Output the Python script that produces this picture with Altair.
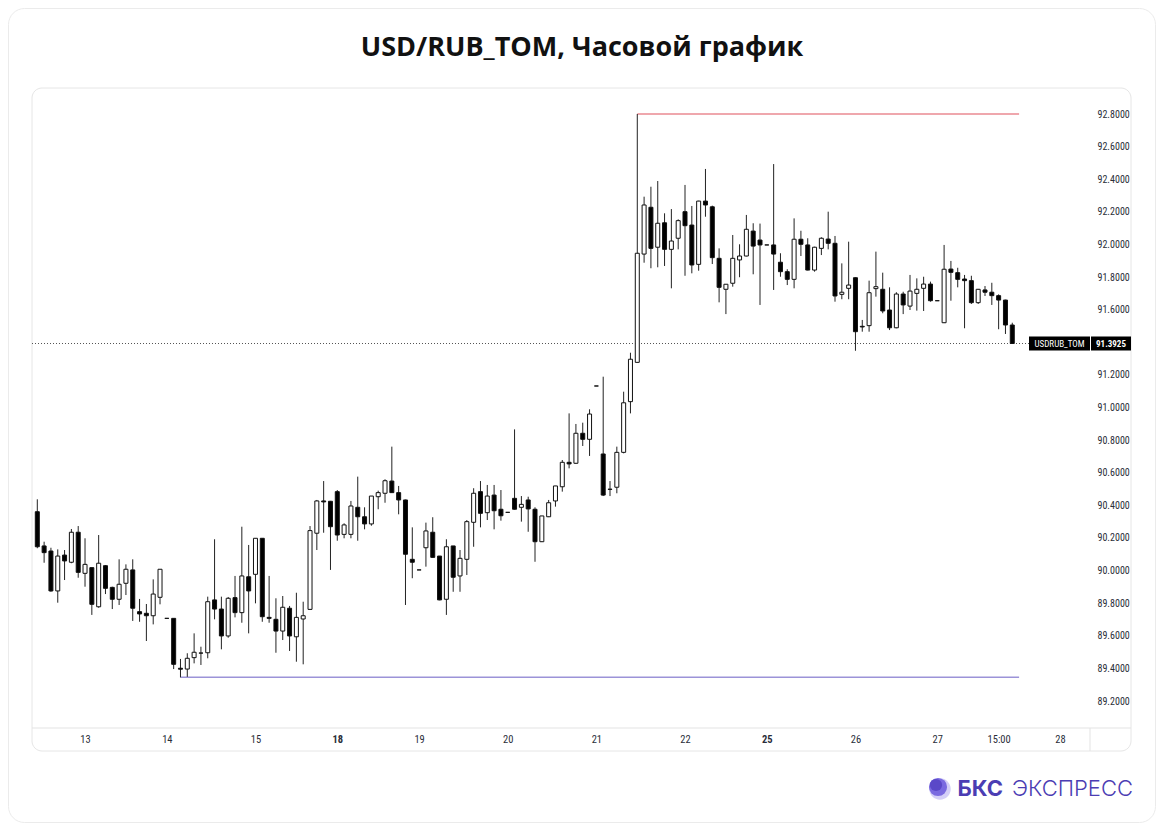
import altair as alt
import pandas as pd

# ---------------- data (hourly candles, USD/RUB_TOM) ----------------
opens = [90.361, 90.151, 90.120, 89.875, 90.095, 90.051, 90.235, 89.983, 90.018, 89.778,
         90.030, 89.897, 89.824, 89.922, 90.004, 89.748, 89.738, 89.723, 89.836, 89.707,
         89.707, 89.401, 89.396, 89.466, 89.494, 89.496, 89.820, 89.764, 89.599, 89.834,
         89.742, 89.962, 89.977, 90.198, 89.713, 89.701, 89.629, 89.769, 89.594, 89.703,
         89.762, 90.229, 90.427, 90.425, 90.484, 90.222, 90.222, 90.388, 90.330, 90.286,
         90.453, 90.474, 90.549, 90.478, 90.433, 90.069, 90.004, 90.140, 90.235, 90.089,
         89.824, 90.151, 89.967, 90.069, 90.296, 90.484, 90.355, 90.463, 90.376, 90.357,
         90.443, 90.388, 90.433, 90.376, 90.177, 90.330, 90.427, 90.514, 90.664, 90.658,
         90.842, 90.805, 91.132, 90.715, 90.498, 90.511, 90.725, 91.036, 91.277, 91.941,
         92.228, 91.983, 92.133, 91.970, 92.038, 92.201, 92.119, 91.878, 92.266, 92.231,
         91.915, 91.725, 91.762, 91.905, 91.929, 92.082, 92.027, 91.997, 91.997, 91.891,
         91.833, 91.786, 92.032, 91.997, 91.843, 91.976, 92.033, 92.007, 91.694, 91.731,
         91.796, 91.498, 91.502, 91.729, 91.725, 91.598, 91.489, 91.696, 91.622, 91.700,
         91.731, 91.757, 91.655, 91.520, 91.849, 91.827, 91.788, 91.778, 91.643, 91.721,
         91.707, 91.686, 91.659, 91.506]
highs = [90.437, 90.177, 90.140, 90.130, 90.126, 90.255, 90.273, 90.198, 90.018, 90.218,
         90.034, 89.901, 90.069, 90.038, 90.069, 89.826, 89.795, 89.946, 90.008, 89.707,
         89.707, 89.458, 89.493, 89.615, 89.533, 89.840, 90.192, 89.840, 89.838, 89.967,
         90.269, 90.157, 90.198, 90.198, 89.967, 89.830, 89.844, 89.783, 89.864, 89.809,
         90.273, 90.433, 90.549, 90.427, 90.494, 90.290, 90.427, 90.576, 90.388, 90.457,
         90.490, 90.560, 90.760, 90.519, 90.435, 90.265, 90.004, 90.294, 90.327, 90.089,
         90.192, 90.151, 90.126, 90.310, 90.505, 90.549, 90.525, 90.525, 90.494, 90.357,
         90.866, 90.457, 90.453, 90.388, 90.335, 90.433, 90.519, 90.678, 90.964, 90.899,
         90.907, 90.989, 91.132, 91.189, 90.549, 90.760, 91.097, 91.336, 92.800, 92.293,
         92.354, 92.389, 92.191, 92.217, 92.154, 92.365, 92.236, 92.268, 92.463, 92.238,
         91.976, 91.756, 92.058, 92.001, 92.181, 92.130, 92.128, 91.997, 92.493, 91.946,
         91.848, 92.160, 92.084, 92.038, 91.986, 92.044, 92.201, 92.052, 91.884, 92.017,
         91.798, 91.537, 91.778, 91.956, 91.827, 91.737, 91.707, 91.710, 91.813, 91.792,
         91.802, 91.772, 91.655, 91.997, 91.899, 91.857, 91.813, 91.808, 91.727, 91.745,
         91.765, 91.694, 91.661, 91.520]
lows = [90.137, 90.048, 89.870, 89.803, 89.942, 90.045, 89.956, 89.901, 89.728, 89.772,
        89.856, 89.764, 89.789, 89.850, 89.691, 89.686, 89.568, 89.670, 89.793, 89.707,
        89.396, 89.345, 89.348, 89.431, 89.421, 89.462, 89.701, 89.517, 89.588, 89.713,
        89.680, 89.615, 89.799, 89.686, 89.680, 89.496, 89.574, 89.507, 89.441, 89.425,
        89.758, 90.126, 90.232, 90.004, 90.183, 90.198, 90.198, 90.183, 90.253, 90.275,
        90.376, 90.416, 90.476, 90.345, 89.789, 89.953, 90.004, 90.024, 90.079, 89.818,
        89.728, 89.870, 89.870, 89.973, 90.146, 90.265, 90.310, 90.253, 90.306, 90.357,
        90.374, 90.300, 90.238, 90.054, 90.175, 90.328, 90.392, 90.484, 90.627, 90.654,
        90.764, 90.703, 91.132, 90.457, 90.457, 90.474, 90.719, 90.964, 91.275, 91.888,
        91.854, 91.860, 91.868, 91.731, 91.970, 91.808, 91.823, 91.839, 92.170, 91.880,
        91.645, 91.573, 91.741, 91.799, 91.927, 91.817, 91.629, 91.997, 91.721, 91.802,
        91.751, 91.731, 91.929, 91.841, 91.833, 91.935, 91.970, 91.649, 91.664, 91.664,
        91.348, 91.465, 91.465, 91.680, 91.578, 91.475, 91.486, 91.573, 91.598, 91.594,
        91.592, 91.649, 91.655, 91.518, 91.655, 91.737, 91.486, 91.635, 91.635, 91.684,
        91.629, 91.480, 91.451, 91.3925]
closes = [90.146, 90.110, 89.875, 90.089, 90.059, 90.235, 89.989, 90.038, 89.793, 90.045,
          89.891, 89.824, 89.916, 90.008, 89.769, 89.734, 89.723, 89.856, 90.008, 89.707,
          89.425, 89.395, 89.462, 89.499, 89.494, 89.809, 89.764, 89.599, 89.830, 89.742,
          89.967, 89.875, 90.198, 89.717, 89.707, 89.629, 89.775, 89.599, 89.713, 89.723,
          90.245, 90.427, 90.421, 90.269, 90.218, 90.280, 90.396, 90.330, 90.286, 90.457,
          90.478, 90.551, 90.478, 90.433, 90.100, 90.051, 90.004, 90.243, 90.081, 89.820,
          90.146, 89.959, 90.075, 90.300, 90.474, 90.351, 90.457, 90.367, 90.336, 90.357,
          90.376, 90.406, 90.378, 90.177, 90.335, 90.416, 90.519, 90.664, 90.654, 90.842,
          90.805, 90.960, 91.132, 90.463, 90.499, 90.725, 91.029, 91.296, 91.946, 92.242,
          91.976, 92.130, 91.970, 92.021, 92.146, 92.115, 91.874, 92.266, 92.242, 91.919,
          91.737, 91.756, 91.915, 91.929, 92.093, 91.990, 91.997, 91.997, 91.941, 91.833,
          91.786, 92.032, 92.001, 91.843, 91.983, 92.038, 92.007, 91.684, 91.707, 91.751,
          91.465, 91.494, 91.704, 91.741, 91.592, 91.489, 91.696, 91.629, 91.714, 91.725,
          91.757, 91.655, 91.655, 91.848, 91.829, 91.786, 91.778, 91.643, 91.725, 91.707,
          91.686, 91.659, 91.506, 91.3925]

x_tick_values = [7, 19, 32, 44, 56, 69, 82, 95, 107, 120, 132, 141, 150]
x_tick_labels = ["13", "14", "15", "18", "19", "20", "21", "22", "25", "26", "27", "15:00", "28"]
bold_labels = ["18", "25"]
# 91.4000 is hidden under the last-price marker in the reference
y_tick_values = [89.2, 89.4, 89.6, 89.8, 90.0, 90.2, 90.4, 90.6, 90.8,
                 91.0, 91.2, 91.6, 91.8, 92.0, 92.2, 92.4, 92.6, 92.8]

symbol = "USDRUB_TOM"
title_text = "USD/RUB_TOM, Часовой график"
line_end_index = 144

# ---------------- layout ----------------
W, H = 1058, 640
X_DOMAIN = [-0.777, 154.4]
Y_DOMAIN = [89.0345, 92.9595]
AXIS_FONT = "Liberation Sans Narrow, Roboto Condensed, Roboto, sans-serif"

df = pd.DataFrame({"i": list(range(len(opens))), "open": opens, "high": highs,
                   "low": lows, "close": closes})
last_close = closes[-1]
hi_idx = highs.index(max(highs))
lo_idx = lows.index(min(lows))
lines_df = pd.DataFrame({
    "x": [hi_idx, lo_idx], "x2": [line_end_index, line_end_index],
    "y": [max(highs), min(lows)], "kind": ["hi", "lo"]})
dummy = pd.DataFrame({"a": [0]})

xscale = alt.Scale(domain=X_DOMAIN, nice=False, zero=False, padding=0)
yscale = alt.Scale(domain=Y_DOMAIN, nice=False, zero=False, padding=0)

bold_idx = [x_tick_values[x_tick_labels.index(b)] for b in bold_labels]
label_expr = ("[" + ",".join("'%s'" % l for l in x_tick_labels) + "][indexof(["
              + ",".join(str(v) for v in x_tick_values) + "], datum.value)]")
xaxis = alt.Axis(values=x_tick_values, labelExpr=label_expr, ticks=False, domain=False,
                 grid=False, title=None, labelFont=AXIS_FONT, labelFontSize=10.5,
                 labelColor="#2a2e39", labelPadding=6, labelOverlap=False, labelFlush=False,
                 labelFontWeight={"condition": {"test": "indexof([" + ",".join(str(v) for v in bold_idx)
                                                + "], datum.value) >= 0", "value": "bold"},
                                  "value": "normal"})
yaxis = alt.Axis(orient="right", values=y_tick_values, format=".4f", ticks=False,
                 domain=False, grid=False, title=None, labelFont=AXIS_FONT, labelFontSize=10,
                 labelColor="#2a2e39", labelPadding=7)


def X(field):
    return alt.X(field, type="quantitative", scale=xscale, axis=xaxis)


def Y(field):
    return alt.Y(field, type="quantitative", scale=yscale, axis=yaxis)


base = alt.Chart(df)

# decorative frames
outer = alt.Chart(dummy).mark_rect(fillOpacity=0, stroke="#ebebeb", strokeWidth=1,
                                   cornerRadius=16).encode(
    x=alt.value(-23.5), x2=alt.value(1123.5), y=alt.value(-79.5), y2=alt.value(734.5))
card = alt.Chart(dummy).mark_rect(fillOpacity=0, stroke="#e6e6e6", strokeWidth=1,
                                  cornerRadius=10).encode(
    x=alt.value(0), x2=alt.value(1099), y=alt.value(0), y2=alt.value(663))
sep_h = alt.Chart(dummy).mark_rule(color="#e3e3e3", strokeWidth=1).encode(
    x=alt.value(0), x2=alt.value(1099), y=alt.value(640))
sep_v = alt.Chart(dummy).mark_rule(color="#e3e3e3", strokeWidth=1).encode(
    x=alt.value(1058), y=alt.value(640), y2=alt.value(663))

# hi / lo levels
levels = alt.Chart(lines_df).mark_rule(strokeWidth=1.5).encode(
    x=X("x"), x2="x2", y=Y("y"),
    color=alt.Color("kind:N", scale=alt.Scale(domain=["hi", "lo"], range=["#ea8a92", "#9c93d8"]),
                    legend=None))

ydat = alt.YDatum(last_close, type="quantitative", scale=yscale, axis=yaxis)

# last price dotted line
last_line = alt.Chart(dummy).mark_rule(color="#555555", strokeWidth=1, strokeDash=[1, 2]).encode(
    x=alt.value(0), x2=alt.value(997), y=ydat)

wicks = base.mark_rule(color="#222222", strokeWidth=1).encode(
    x=X("i"), y=Y("low"), y2="high")
bodies = base.mark_bar(size=4, stroke="#111111", strokeWidth=1).encode(
    x=X("i"), y=Y("open"), y2="close",
    fill=alt.condition("datum.close >= datum.open", alt.value("#ffffff"), alt.value("#000000")))

box1 = alt.Chart(dummy).mark_rule(color="#000000", strokeWidth=14, strokeCap="butt").encode(
    x=alt.value(997), x2=alt.value(1058), y=ydat)
box2 = alt.Chart(dummy).mark_rule(color="#000000", strokeWidth=14, strokeCap="butt").encode(
    x=alt.value(1059), x2=alt.value(1099), y=ydat)
box1_txt = alt.Chart(dummy).mark_text(color="white", font=AXIS_FONT, fontSize=9,
                                      align="center", baseline="middle").encode(
    x=alt.value(1027.5), y=ydat, text=alt.value(symbol))
box2_txt = alt.Chart(dummy).mark_text(color="white", font=AXIS_FONT, fontSize=9,
                                      fontWeight="bold", align="center", baseline="middle").encode(
    x=alt.value(1079), y=ydat, text=alt.value(format(last_close, ".4f")))

title = alt.Chart(dummy).mark_text(font="Open Sans", fontSize=27, fontWeight="bold",
                                   color="#111111", align="center", baseline="middle").encode(
    x=alt.value(550), y=alt.value(-40), text=alt.value(title_text))

logo_c1 = alt.Chart(dummy).mark_circle(opacity=1, color="#d4cff7").encode(
    x=alt.value(908), y=alt.value(701), size=alt.value(460))
logo_c2 = alt.Chart(dummy).mark_circle(opacity=1, color="#7a6ae0").encode(
    x=alt.value(906), y=alt.value(699), size=alt.value(330))
logo_c3 = alt.Chart(dummy).mark_circle(opacity=1, color="#5a48c8").encode(
    x=alt.value(904), y=alt.value(697), size=alt.value(150))
logo_t1 = alt.Chart(dummy).mark_text(font="Inter", fontSize=22, fontWeight="bold",
                                     color="#4b3db3", align="right", baseline="middle").encode(
    x=alt.value(971), y=alt.value(701), text=alt.value("БКС"))
logo_t2 = alt.Chart(dummy).mark_text(font="Inter", fontSize=22, fontWeight=300,
                                     color="#4b3db3", align="right", baseline="middle").encode(
    x=alt.value(1101), y=alt.value(701), text=alt.value("ЭКСПРЕСС"))

chart = alt.layer(
    outer, card, sep_h, sep_v, levels, last_line, wicks, bodies,
    box1, box2, box1_txt, box2_txt, title, logo_c1, logo_c2, logo_c3, logo_t1, logo_t2
).properties(
    width=W, height=H,
    autosize=alt.AutoSizeParams(type="none"),
    padding={"left": 24, "top": 80, "right": 66, "bottom": 95},
    background="white",
).configure_view(stroke=None)

chart.save("out.html", embed_options={"renderer": "svg", "actions": False})
